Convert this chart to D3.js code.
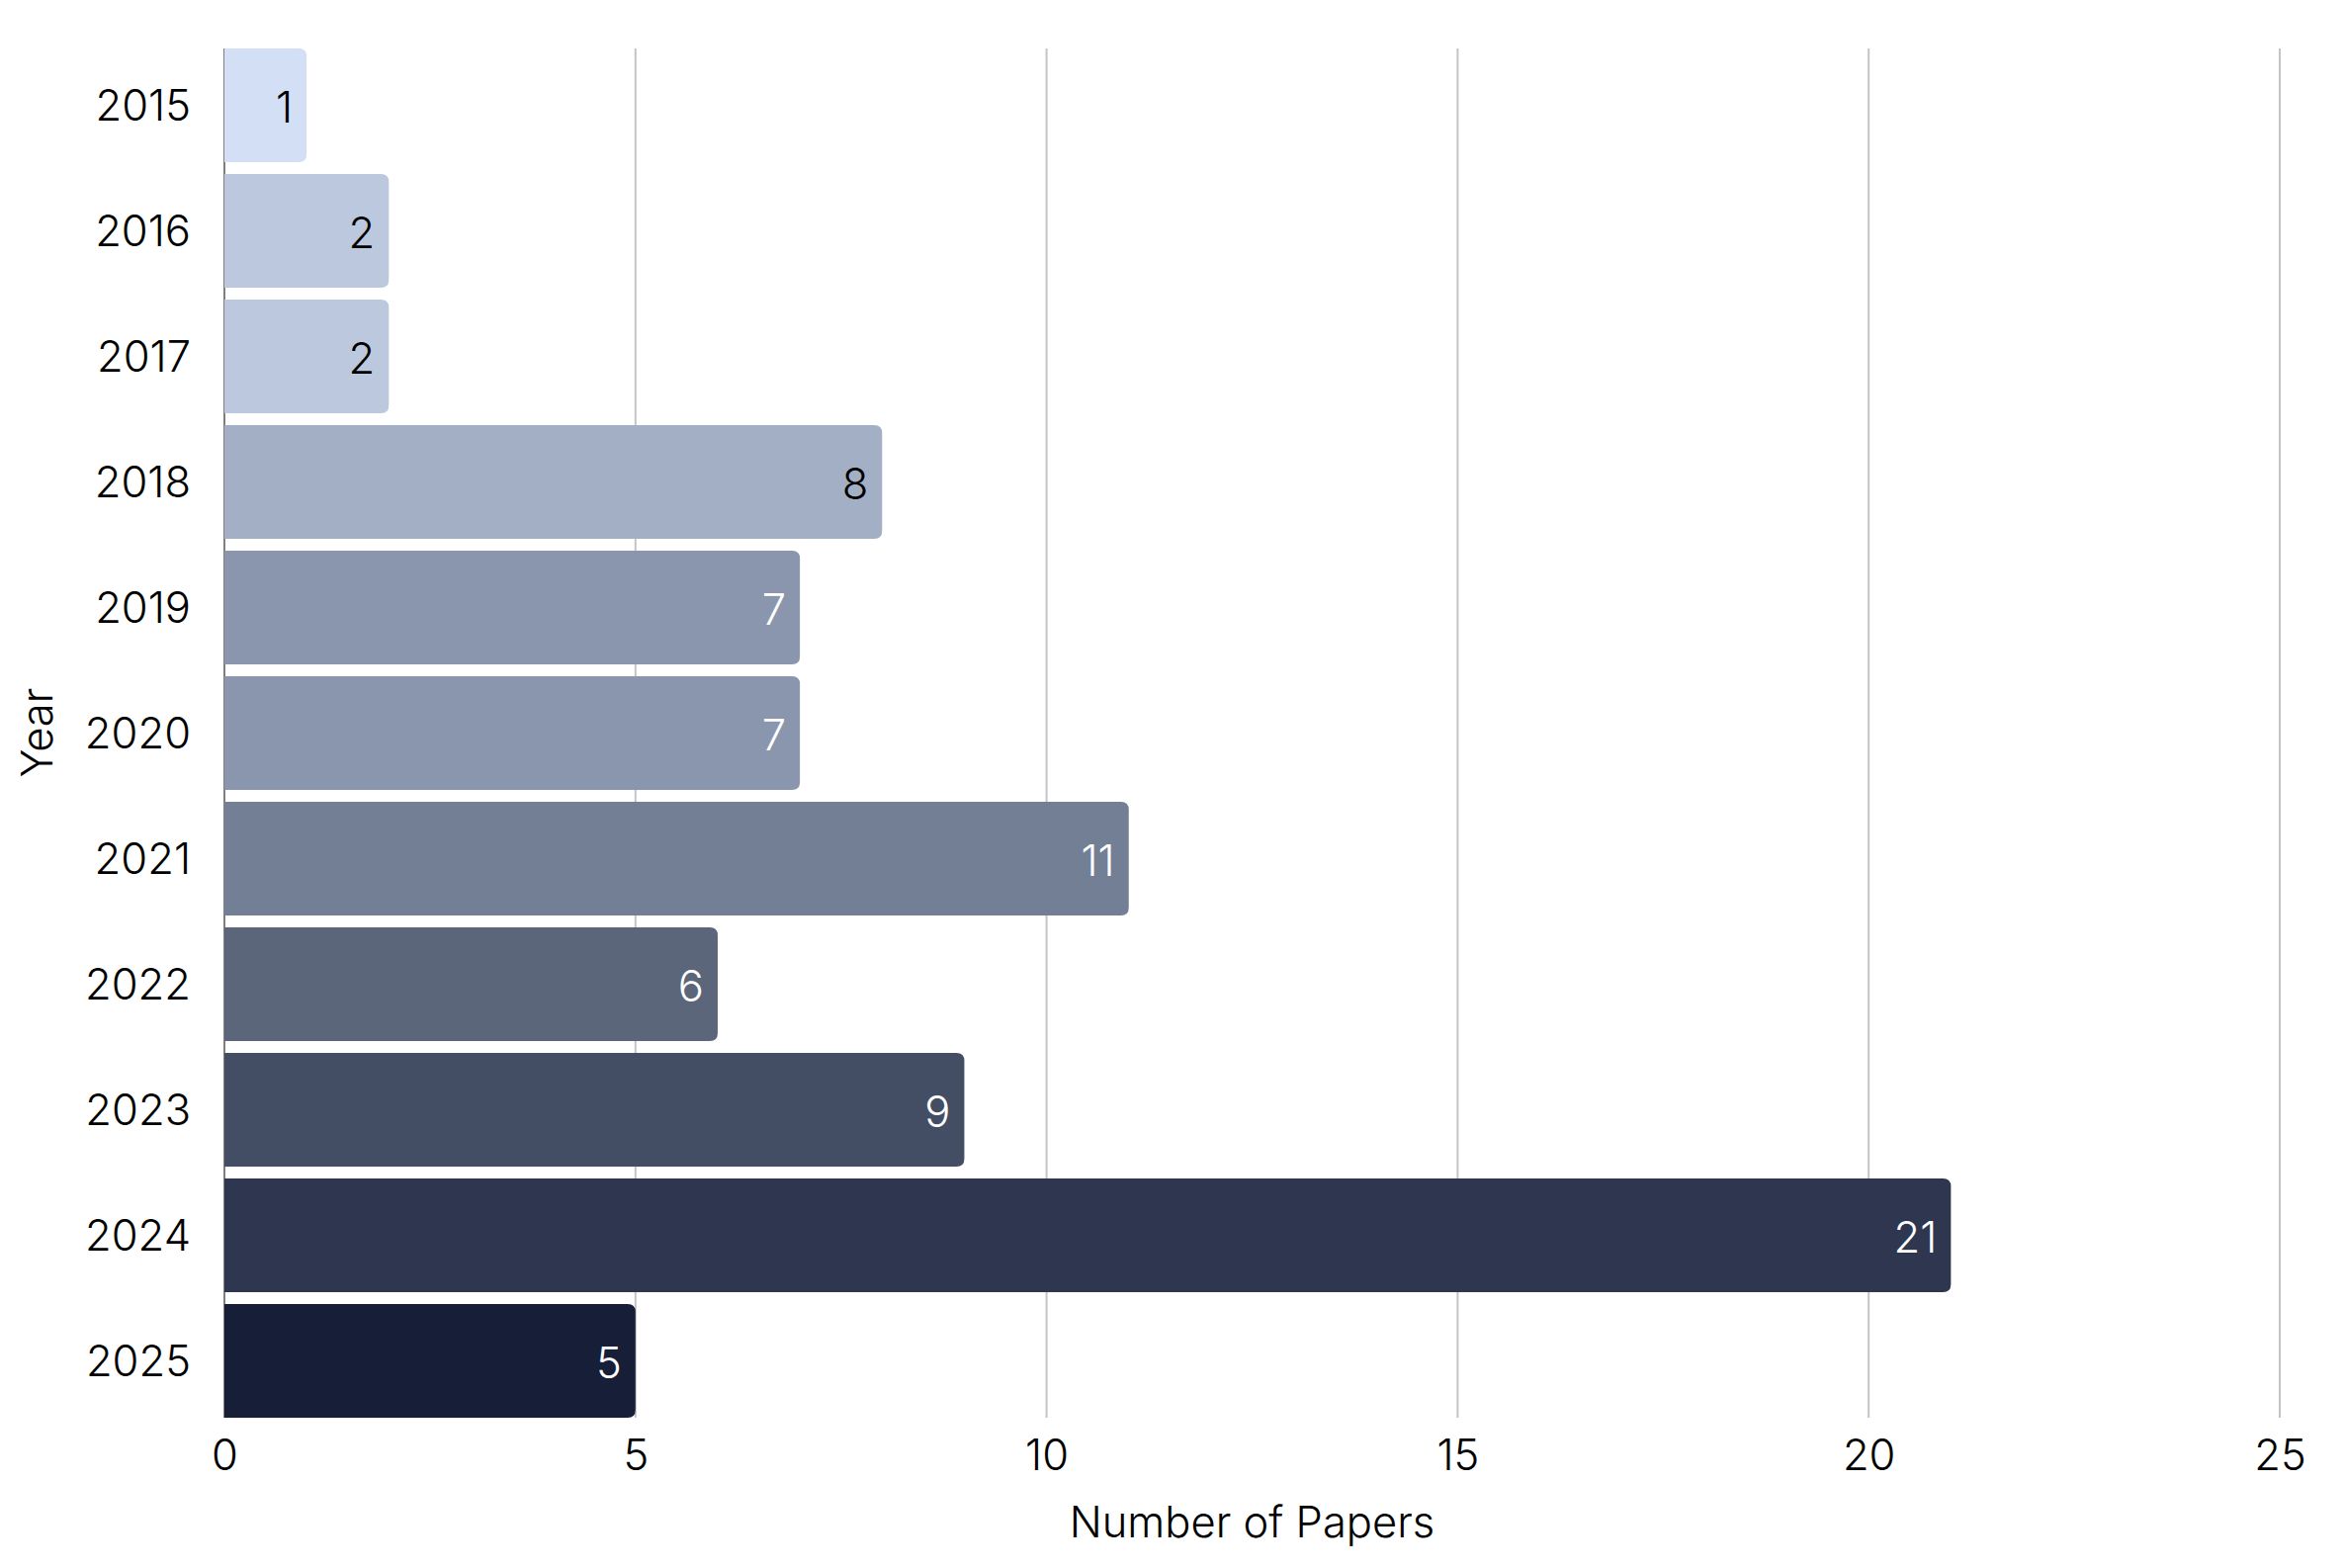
<!DOCTYPE html>
<html>
<head>
<meta charset="utf-8">
<script src="https://cdn.jsdelivr.net/npm/d3@7/dist/d3.min.js"></script>
<style>
  html, body { margin: 0; padding: 0; background: #ffffff; }
  svg { display: block; }
  text { font-family: "Inter", "Noto Sans", sans-serif; font-weight: 300; }
</style>
</head>
<body>
<svg id="chart" width="2371" height="1586"></svg>
<script>
const years = ["2015","2016","2017","2018","2019","2020","2021","2022","2023","2024","2025"];
const papers = [1, 2, 2, 8, 7, 7, 11, 6, 9, 21, 5];
const barColors = ["#d3dff5","#bcc8de","#bcc8de","#a3afc5","#8a96ad","#8a96ad","#737f95","#5b667b","#434e64","#2e374f","#171e38"];
const labelColors = ["#000000","#000000","#000000","#000000","#ffffff","#ffffff","#ffffff","#ffffff","#ffffff","#ffffff","#ffffff"];
const xTicks = [0, 5, 10, 15, 20, 25];
const xTitle = "Number of Papers";
const yTitle = "Year";

const svg = d3.select("#chart");
const mLeft = 227, mRight = 2306, mTop = 49, mBottom = 1434;
const fs = 43.5;

const x = d3.scaleLinear().domain([0, 25]).range([mLeft, mRight]);
const y = d3.scaleBand().domain(years).range([mTop, mBottom]).paddingInner(0.094).paddingOuter(0);

// gridlines
svg.append("g")
  .selectAll("line")
  .data(xTicks.filter(t => t > 0))
  .join("line")
  .attr("x1", d => x(d)).attr("x2", d => x(d))
  .attr("y1", mTop).attr("y2", mBottom)
  .attr("stroke", "#c4c4c4").attr("stroke-width", 2);

// y axis line
svg.append("line")
  .attr("x1", mLeft).attr("x2", mLeft).attr("y1", mTop).attr("y2", mBottom)
  .attr("stroke", "#555").attr("stroke-width", 1.5);

const rad = 8;
function barPath(d, i) {
  const x0 = x(0), x1 = x(d), y0 = y(years[i]), h = y.bandwidth();
  const rr = Math.min(rad, (x1 - x0) / 2);
  return `M${x0},${y0} H${x1 - rr} Q${x1},${y0} ${x1},${y0 + rr} V${y0 + h - rr} Q${x1},${y0 + h} ${x1 - rr},${y0 + h} H${x0} Z`;
}

svg.append("g")
  .selectAll("path")
  .data(papers)
  .join("path")
  .attr("d", (d, i) => barPath(d, i))
  .attr("fill", (d, i) => barColors[i]);

// value labels
svg.append("g")
  .selectAll("text")
  .data(papers)
  .join("text")
  .attr("x", d => x(d) - 14)
  .attr("y", (d, i) => y(years[i]) + y.bandwidth() / 2 + 2)
  .attr("dy", "0.36em")
  .attr("text-anchor", "end")
  .attr("font-size", fs)
  .attr("fill", (d, i) => labelColors[i])
  .text(d => d);

// y tick labels
const yAxis = d3.axisLeft(y).tickSize(0).tickPadding(34);
const yg = svg.append("g").attr("transform", `translate(${mLeft},2)`).call(yAxis);
yg.select(".domain").remove();
yg.selectAll("text").attr("font-size", fs).attr("fill", "#000").attr("font-family", "Inter, 'Noto Sans', sans-serif").attr("font-weight", 300);

// x tick labels
const xAxis = d3.axisBottom(x).tickValues(xTicks).tickSize(0).tickPadding(22);
const xg = svg.append("g").attr("transform", `translate(0,${mBottom})`).call(xAxis);
xg.select(".domain").remove();
xg.selectAll("text").attr("font-size", fs).attr("fill", "#000").attr("font-family", "Inter, 'Noto Sans', sans-serif").attr("font-weight", 300);

// titles
svg.append("text")
  .attr("x", (mLeft + mRight) / 2).attr("y", 1555)
  .attr("text-anchor", "middle").attr("font-size", fs).attr("fill", "#000")
  .text(xTitle);

svg.append("text")
  .attr("transform", `translate(53,741) rotate(-90)`)
  .attr("text-anchor", "middle").attr("font-size", fs).attr("fill", "#000")
  .text(yTitle);
</script>
</body>
</html>
